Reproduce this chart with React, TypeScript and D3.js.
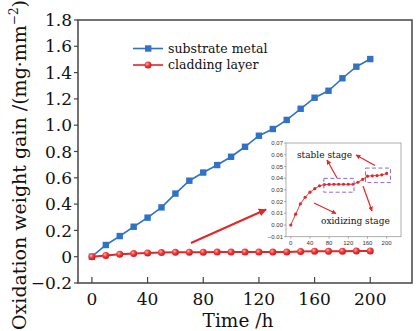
import React from 'react';
import * as d3 from 'd3';

const width = 416;
const height = 331;

const hours = [0, 10, 20, 30, 40, 50, 60, 70, 80, 90, 100, 110, 120, 130, 140, 150, 160, 170, 180, 190, 200];
const substrate = [0, 0.089, 0.157, 0.228, 0.297, 0.375, 0.48, 0.578, 0.64, 0.697, 0.76, 0.836, 0.92, 0.971, 1.04, 1.125, 1.209, 1.262, 1.357, 1.445, 1.503];
const cladding = [0, 0.0092, 0.018, 0.0237, 0.028, 0.031, 0.0334, 0.0345, 0.0347, 0.0348, 0.0348, 0.0348, 0.0348, 0.0348, 0.0365, 0.039, 0.0417, 0.042, 0.0422, 0.0428, 0.044];

const yTicks = [-0.2, 0, 0.2, 0.4, 0.6, 0.8, 1.0, 1.2, 1.4, 1.6, 1.8];
const xTicks = [0, 40, 80, 120, 160, 200];
const insetYTicks = [-0.01, 0, 0.01, 0.02, 0.03, 0.04, 0.05, 0.06, 0.07];
const insetXTicks = [0, 40, 80, 120, 160, 200];

const legendNames = ['substrate metal', 'cladding layer'];
// dashed boxes in inset data units: [x0, x1, yLow, yHigh]
const boxes = [
  [69, 132, 0.028, 0.0398],
  [156, 208, 0.0362, 0.0486]
];

const blue = '#2f72c6';
const red = '#e3262a';
const serif = '"DejaVu Serif", serif';

const plot = { left: 78, right: 412, top: 20, bottom: 283 };
const inset = { left: 286, right: 401, top: 143, bottom: 236.7 };

export default function App() {
  const x = d3.scaleLinear().domain([-10, 230]).range([plot.left, plot.right]);
  const y = d3.scaleLinear().domain([-0.2, 1.8]).range([plot.bottom, plot.top]);
  const ix = d3.scaleLinear().domain([-10, 230]).range([inset.left, inset.right]);
  const iy = d3.scaleLinear().domain([-0.01, 0.07]).range([inset.bottom, inset.top]);

  const subPts: [number, number][] = hours.map((h, i) => [h, substrate[i]]);
  const cladPts: [number, number][] = hours.map((h, i) => [h, cladding[i]]);

  const line = d3.line<[number, number]>().x(d => x(d[0])).y(d => y(d[1]));
  const iline = d3.line<[number, number]>().x(d => ix(d[0])).y(d => iy(d[1]));

  const yFmt = (v: number) => (Math.abs(v) < 1e-9 ? '0' : v < 0 ? '\u2212' + d3.format('.1f')(-v) : d3.format('.1f')(v));

  return (
    <svg width={width} height={height} style={{ position: 'absolute', left: 0, top: 0, background: '#fff' }}>
      <defs>
        <radialGradient id="ball" cx="0.38" cy="0.35" r="0.7">
          <stop offset="0" stopColor="#ffb0b0" />
          <stop offset="0.45" stopColor="#ee3a3a" />
          <stop offset="1" stopColor="#c8161a" />
        </radialGradient>
        <marker id="arrow" viewBox="0 0 10 10" refX="9" refY="5" markerWidth="4" markerHeight="4" orient="auto">
          <path d="M0,0 L10,5 L0,10 z" fill={red} />
        </marker>
      </defs>

      {/* main frame */}
      <rect x={plot.left} y={plot.top} width={plot.right - plot.left} height={plot.bottom - plot.top}
        fill="none" stroke="#444" strokeWidth={1.5} />

      {/* y axis */}
      {yTicks.map(t => (
        <g key={'y' + t}>
          <line x1={plot.left - 4} x2={plot.left} y1={y(t)} y2={y(t)} stroke="#444" strokeWidth={1.2} />
          <text x={plot.left - 6} y={y(t)} dy="0.36em" textAnchor="end" fontFamily={serif} fontSize={17} fill="#111">
            {yFmt(t)}
          </text>
        </g>
      ))}
      {/* x axis */}
      {xTicks.map(t => (
        <g key={'x' + t}>
          <line x1={x(t)} x2={x(t)} y1={plot.bottom} y2={plot.bottom - 6} stroke="#444" strokeWidth={1.2} />
          <text x={x(t)} y={plot.bottom + 22} textAnchor="middle" fontFamily={serif} fontSize={17} fill="#111">
            {t}
          </text>
        </g>
      ))}

      <text x={238} y={327} textAnchor="middle" fontFamily={serif} fontSize={18.5} fill="#111">Time /h</text>
      <text transform="translate(26,165) rotate(-90)" textAnchor="middle" fontFamily={serif} fontSize={19} fill="#111">
        Oxidation weight gain /(mg·mm<tspan dy="-8" fontSize={12}>−2</tspan><tspan dy="8">)</tspan>
      </text>

      {/* substrate metal series */}
      <path d={line(subPts) || ''} fill="none" stroke={blue} strokeWidth={1.6} />
      {subPts.map(d => (
        <rect key={'s' + d[0]} x={x(d[0]) - 3.2} y={y(d[1]) - 3.2} width={6.4} height={6.4} fill={blue} />
      ))}

      {/* cladding layer series */}
      <path d={line(cladPts) || ''} fill="none" stroke={red} strokeWidth={2} />
      {cladPts.map(d => (
        <circle key={'c' + d[0]} cx={x(d[0])} cy={y(d[1])} r={3.5} fill="url(#ball)" />
      ))}

      {/* legend */}
      {legendNames.map((name, i) => {
        const ly = 48.5 + i * 16.5;
        return (
          <g key={name}>
            <line x1={133} x2={163} y1={ly} y2={ly} stroke={i === 0 ? blue : red} strokeWidth={1.6} />
            {i === 0
              ? <rect x={145} y={ly - 3.2} width={6.4} height={6.4} fill={blue} />
              : <circle cx={148} cy={ly} r={3.5} fill="url(#ball)" />}
            <text x={168} y={ly} dy="0.32em" fontFamily={serif} fontSize={12.5} fill="#111">{name}</text>
          </g>
        );
      })}

      {/* pointer to inset */}
      <line x1={191} y1={243} x2={266} y2={209.5} stroke={red} strokeWidth={2} markerEnd="url(#arrow)" />

      {/* inset */}
      <rect x={inset.left} y={inset.top} width={inset.right - inset.left} height={inset.bottom - inset.top}
        fill="#fff" stroke="#999" strokeWidth={0.8} />
      {insetYTicks.map(t => (
        <g key={'iy' + t}>
          <line x1={inset.left - 2} x2={inset.left} y1={iy(t)} y2={iy(t)} stroke="#777" strokeWidth={0.6} />
          <text x={inset.left - 3} y={iy(t)} dy="0.35em" textAnchor="end" fontFamily='"Liberation Sans", sans-serif' fontSize={6} fill="#333">
            {d3.format('.2f')(t)}
          </text>
        </g>
      ))}
      {insetXTicks.map(t => (
        <g key={'ix' + t}>
          <line x1={ix(t)} x2={ix(t)} y1={inset.bottom} y2={inset.bottom + 2} stroke="#777" strokeWidth={0.6} />
          <text x={ix(t)} y={inset.bottom + 8} textAnchor="middle" fontFamily='"Liberation Sans", sans-serif' fontSize={6} fill="#333">
            {t}
          </text>
        </g>
      ))}
      <path d={iline(cladPts) || ''} fill="none" stroke={red} strokeWidth={0.9} />
      {cladPts.map(d => (
        <circle key={'ic' + d[0]} cx={ix(d[0])} cy={iy(d[1])} r={1.6} fill={red} />
      ))}
      {boxes.map((b, i) => (
        <rect key={'b' + i} x={ix(b[0])} y={iy(b[3])} width={ix(b[1]) - ix(b[0])} height={iy(b[2]) - iy(b[3])}
          fill="none" stroke="#8a6ad8" strokeWidth={1} strokeDasharray="4 2.5" />
      ))}
      <text x={297} y={157.5} fontFamily={serif} fontSize={9} fill="#111">stable stage</text>
      <text x={321} y={224} fontFamily={serif} fontSize={9} fill="#111">oxidizing stage</text>
      <line x1={337} y1={178} x2={327} y2={160} stroke={red} strokeWidth={1.2} markerEnd="url(#arrow)" />
      <line x1={375} y1={165.5} x2={356} y2={155} stroke={red} strokeWidth={1.2} markerEnd="url(#arrow)" />
      <line x1={314} y1={203} x2={336} y2={213.5} stroke={red} strokeWidth={1.2} markerEnd="url(#arrow)" />
      <line x1={363} y1={186} x2={372} y2={211} stroke={red} strokeWidth={1.2} markerEnd="url(#arrow)" />
    </svg>
  );
}
